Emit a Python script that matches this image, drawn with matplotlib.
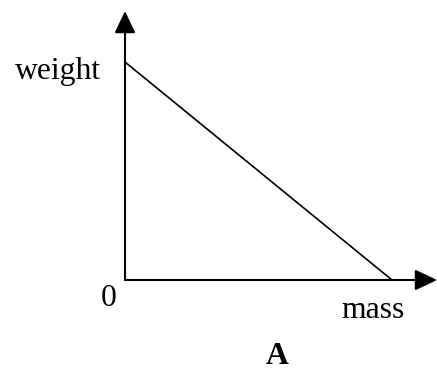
import matplotlib
matplotlib.use("Agg")
import matplotlib.pyplot as plt
from matplotlib.patches import FancyArrowPatch

# Data: weight decreasing linearly with mass
mass = [0.0, 1.0]
weight = [1.0, 0.0]
x_label = "mass"
y_label = "weight"
origin_label = "0"
panel_label = "A"

W, H = 437, 372
fig = plt.figure(figsize=(W / 100, H / 100), dpi=100)
fig.patch.set_facecolor("white")

ox, oy = 125, 280      # origin in pixels (from top)
ex, ty = 392, 62       # end of line on x, start on y
ax = fig.add_axes([ox / W, 1 - oy / H, (ex - ox) / W, (oy - ty) / H])
ax.set_xlim(0, 1)
ax.set_ylim(0, 1)
ax.axis("off")

ax.plot(mass, weight, color="black", lw=1.2, clip_on=False, solid_capstyle="butt")

x_tip = (437 - ox) / (ex - ox)
y_tip = (oy - 11) / (oy - ty)
style = "-|>,head_length=13.5,head_width=6.4"
for end in [(x_tip, 0), (0, y_tip)]:
    arr = FancyArrowPatch((0, 0), end, arrowstyle=style, mutation_scale=1,
                          color="black", lw=1.5, shrinkA=0, shrinkB=0,
                          transform=ax.transData, clip_on=False)
    ax.add_patch(arr)

font = "Liberation Serif"
fs = 22.8
fig.text(101 / W, 1 - 72 / H, y_label, ha="right", va="center",
         fontsize=fs, family=font)
fig.text(109 / W, 1 - 298 / H, origin_label, ha="center", va="center",
         fontsize=fs, family=font)
fig.text(373 / W, 1 - 311 / H, x_label, ha="center", va="center",
         fontsize=fs, family=font)
fig.text(277 / W, 1 - 356 / H, panel_label, ha="center", va="center",
         fontsize=fs, family=font, fontweight="bold")

fig.savefig("out.png", dpi=100, facecolor="white")
